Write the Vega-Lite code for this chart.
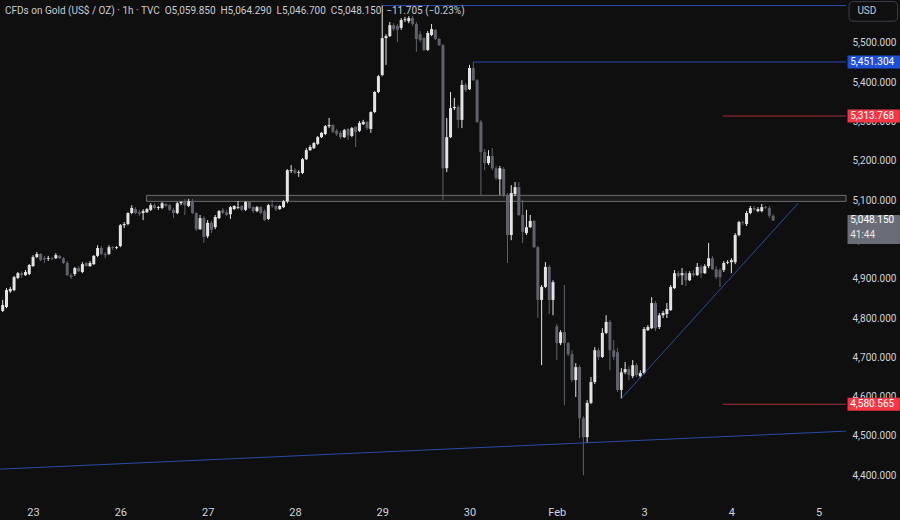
{
"$schema": "https://vega.github.io/schema/vega-lite/v6.json",
"autosize": {"type": "none"},
"width": 846, "height": 500,
"padding": {"left": 0, "top": 0, "right": 54, "bottom": 20},
"background": "#0f0f0f",
"config": {"view": {"stroke": null}, "font": "Roboto", "axis": {"grid": false, "domain": false, "ticks": false}},
"title": {"text": "CFDs on Gold (US$ / OZ) · 1h · TVC \u00a0O5,059.850 \u00a0H5,064.290 \u00a0L5,046.700 \u00a0C5,048.150 \u00a0−11.705 (−0.23%)", "anchor": "start", "frame": "group", "orient": "top", "offset": -16, "dx": 5, "fontSize": 10, "fontWeight": "normal", "color": "#c9ccd4", "font": "Roboto"},
"datasets": {
"zone": [{"k": 37.9, "k2": 222.2, "p": 5096.7, "p2": 5112}],
"segs": [
{"k": 100, "k2": 222.2, "p": 5595, "p2": 5595, "kind": "blue"},
{"k": 124, "k2": 222.2, "p": 5451.304, "p2": 5451.304, "kind": "blue"},
{"k": 189.7, "k2": 222.2, "p": 5313.768, "p2": 5313.768, "kind": "red"},
{"k": 189.7, "k2": 222.2, "p": 4580.565, "p2": 4580.565, "kind": "red"},
{"k": 162.9, "k2": 209.6, "p": 4594, "p2": 5092, "kind": "blue"},
{"k": -0.71, "k2": 222.2, "p": 4415.5, "p2": 4512.2, "kind": "blue"}
],
"tags": [
{"p": 5451.304, "label": "5,451.304", "kind": "blueTag"},
{"p": 5313.768, "label": "5,313.768", "kind": "redTag"},
{"p": 4580.565, "label": "4,580.565", "kind": "redTag"}
],
"last": [{"p": 5048.15, "label": "5,048.150", "sub": "41:44"}],
"candles": [
{"k":0,"o":4818,"h":4846,"l":4815,"c":4833},
{"k":1,"o":4828,"h":4876,"l":4825,"c":4871},
{"k":2,"o":4868,"h":4879,"l":4864,"c":4874},
{"k":3,"o":4871,"h":4907,"l":4868,"c":4904},
{"k":4,"o":4902,"h":4917,"l":4899,"c":4914},
{"k":5,"o":4914,"h":4919,"l":4902,"c":4909},
{"k":6,"o":4909,"h":4922,"l":4907,"c":4917},
{"k":7,"o":4912,"h":4937,"l":4909,"c":4935},
{"k":8,"o":4932,"h":4960,"l":4930,"c":4955},
{"k":9,"o":4955,"h":4968,"l":4952,"c":4963},
{"k":10,"o":4963,"h":4965,"l":4945,"c":4947},
{"k":11,"o":4952,"h":4958,"l":4940,"c":4949},
{"k":12,"o":4950,"h":4958,"l":4945,"c":4952},
{"k":13,"o":4952,"h":4955,"l":4947,"c":4950},
{"k":14,"o":4952,"h":4965,"l":4950,"c":4960},
{"k":15,"o":4958,"h":4960,"l":4950,"c":4952},
{"k":16,"o":4952,"h":4955,"l":4937,"c":4940},
{"k":17,"o":4940,"h":4945,"l":4907,"c":4909},
{"k":18,"o":4909,"h":4914,"l":4899,"c":4904},
{"k":19,"o":4912,"h":4930,"l":4907,"c":4927},
{"k":20,"o":4927,"h":4932,"l":4917,"c":4919},
{"k":21,"o":4917,"h":4942,"l":4914,"c":4937},
{"k":22,"o":4940,"h":4942,"l":4930,"c":4932},
{"k":23,"o":4932,"h":4945,"l":4930,"c":4940},
{"k":24,"o":4937,"h":4960,"l":4935,"c":4958},
{"k":25,"o":4958,"h":4985,"l":4955,"c":4978},
{"k":26,"o":4978,"h":4983,"l":4960,"c":4963},
{"k":27,"o":4963,"h":4968,"l":4952,"c":4960},
{"k":28,"o":4963,"h":4985,"l":4960,"c":4980},
{"k":29,"o":4980,"h":4983,"l":4973,"c":4978},
{"k":30,"o":4978,"h":4983,"l":4975,"c":4980},
{"k":31,"o":4983,"h":5039,"l":4980,"c":5036},
{"k":32,"o":5036,"h":5044,"l":5029,"c":5039},
{"k":33,"o":5039,"h":5069,"l":5036,"c":5067},
{"k":34,"o":5067,"h":5087,"l":5064,"c":5080},
{"k":35,"o":5077,"h":5082,"l":5064,"c":5067},
{"k":36,"o":5069,"h":5075,"l":5059,"c":5065},
{"k":37,"o":5067,"h":5077,"l":5049,"c":5072},
{"k":38,"o":5069,"h":5080,"l":5067,"c":5077},
{"k":39,"o":5075,"h":5092,"l":5072,"c":5087},
{"k":40,"o":5087,"h":5092,"l":5077,"c":5080},
{"k":41,"o":5080,"h":5085,"l":5075,"c":5082},
{"k":42,"o":5080,"h":5095,"l":5077,"c":5092},
{"k":43,"o":5090,"h":5092,"l":5082,"c":5085},
{"k":44,"o":5087,"h":5090,"l":5072,"c":5075},
{"k":45,"o":5075,"h":5080,"l":5054,"c":5067},
{"k":46,"o":5067,"h":5095,"l":5064,"c":5092},
{"k":47,"o":5092,"h":5097,"l":5087,"c":5095},
{"k":48,"o":5097,"h":5103,"l":5062,"c":5087},
{"k":49,"o":5085,"h":5103,"l":5082,"c":5097},
{"k":50,"o":5097,"h":5103,"l":5064,"c":5067},
{"k":51,"o":5067,"h":5069,"l":5021,"c":5026},
{"k":52,"o":5026,"h":5062,"l":5024,"c":5054},
{"k":53,"o":5054,"h":5059,"l":4991,"c":5006},
{"k":54,"o":5008,"h":5049,"l":5003,"c":5042},
{"k":55,"o":5042,"h":5047,"l":5016,"c":5024},
{"k":56,"o":5031,"h":5062,"l":5026,"c":5057},
{"k":57,"o":5054,"h":5075,"l":5052,"c":5072},
{"k":58,"o":5075,"h":5080,"l":5064,"c":5067},
{"k":59,"o":5069,"h":5075,"l":5059,"c":5062},
{"k":60,"o":5064,"h":5085,"l":5052,"c":5082},
{"k":61,"o":5077,"h":5087,"l":5075,"c":5085},
{"k":62,"o":5080,"h":5097,"l":5077,"c":5082},
{"k":63,"o":5085,"h":5087,"l":5072,"c":5075},
{"k":64,"o":5075,"h":5097,"l":5072,"c":5095},
{"k":65,"o":5095,"h":5097,"l":5077,"c":5080},
{"k":66,"o":5082,"h":5085,"l":5067,"c":5072},
{"k":67,"o":5072,"h":5085,"l":5069,"c":5082},
{"k":68,"o":5082,"h":5085,"l":5064,"c":5067},
{"k":69,"o":5072,"h":5077,"l":5047,"c":5049},
{"k":70,"o":5052,"h":5090,"l":5049,"c":5087},
{"k":71,"o":5087,"h":5100,"l":5080,"c":5085},
{"k":72,"o":5085,"h":5087,"l":5072,"c":5077},
{"k":73,"o":5077,"h":5087,"l":5075,"c":5085},
{"k":74,"o":5082,"h":5100,"l":5080,"c":5097},
{"k":75,"o":5097,"h":5179,"l":5092,"c":5176},
{"k":76,"o":5174,"h":5189,"l":5169,"c":5176},
{"k":77,"o":5176,"h":5181,"l":5166,"c":5169},
{"k":78,"o":5169,"h":5176,"l":5159,"c":5171},
{"k":79,"o":5169,"h":5207,"l":5166,"c":5204},
{"k":80,"o":5204,"h":5232,"l":5202,"c":5227},
{"k":81,"o":5227,"h":5240,"l":5225,"c":5235},
{"k":82,"o":5232,"h":5248,"l":5230,"c":5245},
{"k":83,"o":5243,"h":5263,"l":5240,"c":5260},
{"k":84,"o":5260,"h":5273,"l":5258,"c":5271},
{"k":85,"o":5268,"h":5291,"l":5265,"c":5288},
{"k":86,"o":5288,"h":5309,"l":5283,"c":5291},
{"k":87,"o":5291,"h":5293,"l":5271,"c":5273},
{"k":88,"o":5276,"h":5281,"l":5263,"c":5268},
{"k":89,"o":5271,"h":5276,"l":5255,"c":5260},
{"k":90,"o":5260,"h":5281,"l":5258,"c":5278},
{"k":91,"o":5281,"h":5283,"l":5253,"c":5265},
{"k":92,"o":5263,"h":5286,"l":5260,"c":5283},
{"k":93,"o":5286,"h":5288,"l":5235,"c":5273},
{"k":94,"o":5276,"h":5301,"l":5273,"c":5296},
{"k":95,"o":5293,"h":5304,"l":5291,"c":5299},
{"k":96,"o":5299,"h":5301,"l":5278,"c":5283},
{"k":97,"o":5281,"h":5326,"l":5271,"c":5324},
{"k":98,"o":5324,"h":5377,"l":5321,"c":5375},
{"k":99,"o":5375,"h":5418,"l":5372,"c":5415},
{"k":100,"o":5418,"h":5596,"l":5415,"c":5512},
{"k":101,"o":5512,"h":5522,"l":5444,"c":5517},
{"k":102,"o":5517,"h":5553,"l":5515,"c":5545},
{"k":103,"o":5545,"h":5550,"l":5530,"c":5535},
{"k":104,"o":5543,"h":5548,"l":5502,"c":5533},
{"k":105,"o":5538,"h":5563,"l":5533,"c":5558},
{"k":106,"o":5558,"h":5566,"l":5553,"c":5560},
{"k":107,"o":5555,"h":5568,"l":5550,"c":5563},
{"k":108,"o":5563,"h":5568,"l":5543,"c":5548},
{"k":109,"o":5548,"h":5553,"l":5477,"c":5510},
{"k":110,"o":5522,"h":5530,"l":5502,"c":5507},
{"k":111,"o":5512,"h":5515,"l":5479,"c":5482},
{"k":112,"o":5482,"h":5530,"l":5479,"c":5525},
{"k":113,"o":5520,"h":5548,"l":5517,"c":5535},
{"k":114,"o":5533,"h":5535,"l":5507,"c":5510},
{"k":115,"o":5510,"h":5512,"l":5492,"c":5494},
{"k":116,"o":5494,"h":5497,"l":5100,"c":5181},
{"k":117,"o":5181,"h":5309,"l":5171,"c":5260},
{"k":118,"o":5260,"h":5375,"l":5258,"c":5334},
{"k":119,"o":5334,"h":5360,"l":5329,"c":5337},
{"k":120,"o":5337,"h":5342,"l":5283,"c":5304},
{"k":121,"o":5304,"h":5405,"l":5283,"c":5393},
{"k":122,"o":5393,"h":5398,"l":5375,"c":5380},
{"k":123,"o":5382,"h":5444,"l":5380,"c":5436},
{"k":124,"o":5436,"h":5451,"l":5403,"c":5405},
{"k":125,"o":5405,"h":5408,"l":5296,"c":5299},
{"k":126,"o":5299,"h":5304,"l":5113,"c":5222},
{"k":127,"o":5222,"h":5230,"l":5176,"c":5194},
{"k":128,"o":5194,"h":5227,"l":5189,"c":5212},
{"k":129,"o":5212,"h":5232,"l":5176,"c":5181},
{"k":130,"o":5181,"h":5187,"l":5151,"c":5156},
{"k":131,"o":5153,"h":5187,"l":5113,"c":5181},
{"k":132,"o":5179,"h":5184,"l":5108,"c":5113},
{"k":133,"o":5113,"h":5118,"l":4940,"c":5011},
{"k":134,"o":5011,"h":5138,"l":4998,"c":5118},
{"k":135,"o":5115,"h":5146,"l":5110,"c":5133},
{"k":136,"o":5133,"h":5146,"l":5059,"c":5062},
{"k":137,"o":5062,"h":5100,"l":4991,"c":5019},
{"k":138,"o":5016,"h":5075,"l":5011,"c":5031},
{"k":139,"o":5031,"h":5062,"l":5029,"c":5047},
{"k":140,"o":5047,"h":5049,"l":4978,"c":4980},
{"k":141,"o":4980,"h":4983,"l":4800,"c":4846},
{"k":142,"o":4846,"h":4884,"l":4680,"c":4879},
{"k":143,"o":4879,"h":4942,"l":4876,"c":4930},
{"k":144,"o":4930,"h":4935,"l":4810,"c":4846},
{"k":145,"o":4846,"h":4896,"l":4807,"c":4891},
{"k":146,"o":4779,"h":4785,"l":4693,"c":4736},
{"k":147,"o":4736,"h":4769,"l":4731,"c":4764},
{"k":148,"o":4764,"h":4884,"l":4578,"c":4736},
{"k":149,"o":4736,"h":4739,"l":4703,"c":4708},
{"k":150,"o":4708,"h":4718,"l":4637,"c":4642},
{"k":151,"o":4642,"h":4685,"l":4599,"c":4675},
{"k":152,"o":4675,"h":4680,"l":4494,"c":4545},
{"k":153,"o":4545,"h":4550,"l":4400,"c":4497},
{"k":154,"o":4497,"h":4591,"l":4482,"c":4584},
{"k":155,"o":4584,"h":4650,"l":4581,"c":4637},
{"k":156,"o":4637,"h":4726,"l":4632,"c":4718},
{"k":157,"o":4718,"h":4724,"l":4693,"c":4701},
{"k":158,"o":4701,"h":4774,"l":4698,"c":4762},
{"k":159,"o":4762,"h":4807,"l":4759,"c":4790},
{"k":160,"o":4790,"h":4795,"l":4667,"c":4718},
{"k":161,"o":4718,"h":4744,"l":4693,"c":4701},
{"k":162,"o":4713,"h":4724,"l":4612,"c":4617},
{"k":163,"o":4617,"h":4673,"l":4594,"c":4662},
{"k":164,"o":4662,"h":4688,"l":4657,"c":4670},
{"k":165,"o":4670,"h":4678,"l":4642,"c":4655},
{"k":166,"o":4652,"h":4693,"l":4647,"c":4680},
{"k":167,"o":4680,"h":4685,"l":4650,"c":4655},
{"k":168,"o":4652,"h":4667,"l":4647,"c":4660},
{"k":169,"o":4660,"h":4777,"l":4657,"c":4772},
{"k":170,"o":4769,"h":4782,"l":4767,"c":4777},
{"k":171,"o":4774,"h":4853,"l":4772,"c":4838},
{"k":172,"o":4838,"h":4843,"l":4767,"c":4774},
{"k":173,"o":4777,"h":4813,"l":4772,"c":4807},
{"k":174,"o":4807,"h":4818,"l":4800,"c":4813},
{"k":175,"o":4810,"h":4838,"l":4800,"c":4823},
{"k":176,"o":4820,"h":4884,"l":4818,"c":4879},
{"k":177,"o":4876,"h":4922,"l":4874,"c":4914},
{"k":178,"o":4914,"h":4919,"l":4902,"c":4907},
{"k":179,"o":4909,"h":4927,"l":4884,"c":4914},
{"k":180,"o":4914,"h":4919,"l":4881,"c":4896},
{"k":181,"o":4896,"h":4919,"l":4894,"c":4914},
{"k":182,"o":4914,"h":4922,"l":4904,"c":4909},
{"k":183,"o":4909,"h":4940,"l":4907,"c":4930},
{"k":184,"o":4930,"h":4935,"l":4902,"c":4914},
{"k":185,"o":4914,"h":4937,"l":4912,"c":4932},
{"k":186,"o":4932,"h":4991,"l":4927,"c":4952},
{"k":187,"o":4952,"h":4958,"l":4922,"c":4924},
{"k":188,"o":4924,"h":4932,"l":4899,"c":4904},
{"k":189,"o":4922,"h":4927,"l":4879,"c":4904},
{"k":190,"o":4922,"h":4945,"l":4917,"c":4940},
{"k":191,"o":4940,"h":4947,"l":4937,"c":4942},
{"k":192,"o":4942,"h":4952,"l":4914,"c":4947},
{"k":193,"o":4942,"h":5016,"l":4937,"c":5011},
{"k":194,"o":5011,"h":5047,"l":5008,"c":5044},
{"k":195,"o":5044,"h":5047,"l":5036,"c":5042},
{"k":196,"o":5039,"h":5072,"l":5034,"c":5067},
{"k":197,"o":5067,"h":5085,"l":5064,"c":5080},
{"k":198,"o":5080,"h":5085,"l":5072,"c":5076},
{"k":199,"o":5072,"h":5082,"l":5069,"c":5077},
{"k":200,"o":5072,"h":5090,"l":5069,"c":5082},
{"k":201,"o":5082,"h":5085,"l":5077,"c":5080},
{"k":202,"o":5080,"h":5085,"l":5054,"c":5060},
{"k":203,"o":5059.85,"h":5064.29,"l":5046.7,"c":5048.15}
]
},
"layer": [
{"data": {"name": "zone"},
 "mark": {"type": "rect", "fill": "#1c1c1c", "stroke": "#6b6b6b", "strokeWidth": 1},
 "encoding": {
  "x": {"field": "k", "type": "quantitative", "scale": {"domain": [-0.71, 222.2], "nice": false, "zero": false, "padding": 0},
        "axis": {"values": [8, 31, 54, 77, 100, 123, 146, 169, 192, 215], "labelExpr": "['23','26','27','28','29','30','Feb','3','4','5'][round((datum.value-8)/23)]", "labelColor": "#d1d4dc", "labelFontSize": 11, "labelPadding": 6, "title": null, "labelFlush": false, "grid": false, "domain": false, "ticks": false}},
  "x2": {"field": "k2"},
  "y": {"field": "p", "type": "quantitative", "scale": {"domain": [4337, 5609], "nice": false, "zero": false},
        "axis": {"orient": "right", "values": [4400, 4500, 4600, 4700, 4800, 4900, 5000, 5100, 5200, 5300, 5400, 5500], "format": ",.3f", "labelColor": "#d1d4dc", "labelFontSize": 10, "labelPadding": 6, "title": null, "labelOverlap": false, "labelFlush": false, "grid": false, "domain": false, "ticks": false}},
  "y2": {"field": "p2"}
 }},
{"data": {"name": "candles"},
 "mark": {"type": "rule", "strokeWidth": 1},
 "encoding": {
  "x": {"field": "k", "type": "quantitative", "scale": {"domain": [-0.71, 222.2], "nice": false, "zero": false, "padding": 0}},
  "y": {"field": "l", "type": "quantitative", "scale": {"domain": [4337, 5609], "nice": false, "zero": false}},
  "y2": {"field": "h"},
  "color": {"condition": {"test": "datum.c >= datum.o", "value": "#e4e4e4"}, "value": "#5f626b"}
 }},
{"data": {"name": "candles"},
 "mark": {"type": "bar", "width": 3},
 "encoding": {
  "x": {"field": "k", "type": "quantitative", "scale": {"domain": [-0.71, 222.2], "nice": false, "zero": false, "padding": 0}},
  "y": {"field": "o", "type": "quantitative", "scale": {"domain": [4337, 5609], "nice": false, "zero": false}},
  "y2": {"field": "c"},
  "color": {"condition": {"test": "datum.c >= datum.o", "value": "#e4e4e4"}, "value": "#5f626b"}
 }},
{"data": {"name": "segs"},
 "mark": {"type": "rule", "strokeWidth": 1},
 "encoding": {
  "x": {"field": "k", "type": "quantitative", "scale": {"domain": [-0.71, 222.2], "nice": false, "zero": false, "padding": 0}},
  "x2": {"field": "k2"},
  "y": {"field": "p", "type": "quantitative", "scale": {"domain": [4337, 5609], "nice": false, "zero": false}},
  "y2": {"field": "p2"},
  "color": {"field": "kind", "type": "nominal", "scale": {"domain": ["blue", "red", "blueTag", "redTag"], "range": ["#2a4aa8", "#a82c35", "#1f4fd6", "#f23645"]}, "legend": null}
 }},
{"data": {"name": "tags"},
 "mark": {"type": "rect", "height": 13},
 "encoding": {
  "x": {"datum": 222.6, "type": "quantitative", "scale": {"domain": [-0.71, 222.2], "nice": false, "zero": false, "padding": 0}},
  "x2": {"datum": 236.4},
  "y": {"field": "p", "type": "quantitative", "scale": {"domain": [4337, 5609], "nice": false, "zero": false}},
  "color": {"field": "kind", "type": "nominal", "scale": {"domain": ["blue", "red", "blueTag", "redTag"], "range": ["#2a4aa8", "#a82c35", "#1f4fd6", "#f23645"]}, "legend": null}
 }},
{"data": {"name": "tags"},
 "mark": {"type": "text", "align": "left", "baseline": "middle", "fontSize": 10, "color": "#ffffff"},
 "encoding": {
  "x": {"datum": 223.3, "type": "quantitative", "scale": {"domain": [-0.71, 222.2], "nice": false, "zero": false, "padding": 0}},
  "y": {"field": "p", "type": "quantitative", "scale": {"domain": [4337, 5609], "nice": false, "zero": false}},
  "text": {"field": "label"}
 }},
{"data": {"name": "last"},
 "mark": {"type": "rect", "height": 29, "yOffset": 9, "color": "#6a6d78"},
 "encoding": {
  "x": {"datum": 222.6, "type": "quantitative", "scale": {"domain": [-0.71, 222.2], "nice": false, "zero": false, "padding": 0}},
  "x2": {"datum": 236.4},
  "y": {"field": "p", "type": "quantitative", "scale": {"domain": [4337, 5609], "nice": false, "zero": false}}
 }},
{"data": {"name": "last"},
 "mark": {"type": "text", "align": "left", "baseline": "middle", "fontSize": 10, "color": "#ffffff"},
 "encoding": {
  "x": {"datum": 223.3, "type": "quantitative", "scale": {"domain": [-0.71, 222.2], "nice": false, "zero": false, "padding": 0}},
  "y": {"field": "p", "type": "quantitative", "scale": {"domain": [4337, 5609], "nice": false, "zero": false}},
  "text": {"field": "label"}
 }},
{"data": {"name": "last"},
 "mark": {"type": "text", "align": "left", "baseline": "middle", "fontSize": 10, "color": "#e6e6e6", "dy": 15},
 "encoding": {
  "x": {"datum": 223.3, "type": "quantitative", "scale": {"domain": [-0.71, 222.2], "nice": false, "zero": false, "padding": 0}},
  "y": {"field": "p", "type": "quantitative", "scale": {"domain": [4337, 5609], "nice": false, "zero": false}},
  "text": {"field": "sub"}
 }},
{"data": {"values": [{"unit": "USD"}]},
 "mark": {"type": "rect", "filled": false, "stroke": "#3b3f4a", "strokeWidth": 1, "cornerRadius": 4},
 "encoding": {
  "x": {"datum": 223.0, "type": "quantitative", "scale": {"domain": [-0.71, 222.2], "nice": false, "zero": false, "padding": 0}},
  "x2": {"datum": 235.8},
  "y": {"datum": 5605, "type": "quantitative", "scale": {"domain": [4337, 5609], "nice": false, "zero": false}},
  "y2": {"datum": 5555}
 }},
{"data": {"values": [{"unit": "USD"}]},
 "mark": {"type": "text", "align": "left", "baseline": "middle", "fontSize": 10, "color": "#c9ccd4"},
 "encoding": {
  "x": {"datum": 225.2, "type": "quantitative", "scale": {"domain": [-0.71, 222.2], "nice": false, "zero": false, "padding": 0}},
  "y": {"datum": 5581, "type": "quantitative", "scale": {"domain": [4337, 5609], "nice": false, "zero": false}},
  "text": {"field": "unit"}
 }}
]
}
